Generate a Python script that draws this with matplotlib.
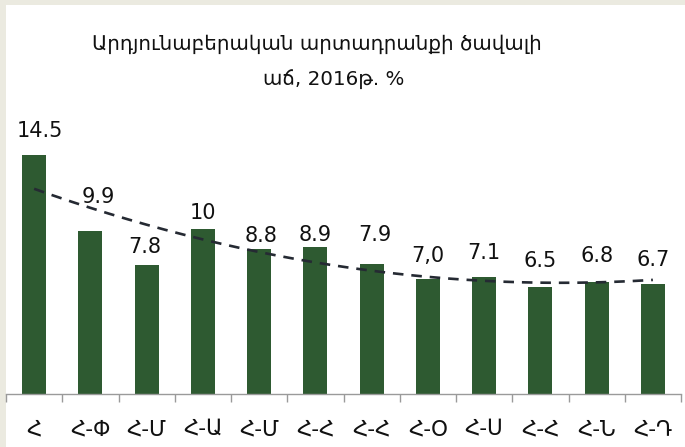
import numpy as np
import matplotlib
matplotlib.use("Agg")
import matplotlib.pyplot as plt
from matplotlib.ticker import FixedLocator

# ---- data ----
categories = ["Հ", "Հ-Փ", "Հ-Մ", "Հ-Ա", "Հ-Մ", "Հ-Հ", "Հ-Հ", "Հ-Օ", "Հ-Ս", "Հ-Հ", "Հ-Ն", "Հ-Դ"]
values = [14.5, 9.9, 7.8, 10.0, 8.8, 8.9, 7.9, 7.0, 7.1, 6.5, 6.8, 6.7]
value_labels = ["14.5", "9.9", "7.8", "10", "8.8", "8.9", "7.9", "7,0", "7.1", "6.5", "6.8", "6.7"]
title_lines = ["Արդյունաբերական արտադրանքի ծավալի", "աճ, 2016թ. %"]

# ---- style / layout ----
label_dy_px = [18, 28, 12, 10, 7, 6, 23, 17, 18, 20, 20, 18]
label_dx_px = [6, 8, -2, 0, 2, 0, 3, 0, 0, 0, 0, 0]
bar_color = "#2e5a31"
W, H = 685, 447
plt.rcParams["font.family"] = ["DejaVu Sans"]

fig = plt.figure(figsize=(W / 100, H / 100), dpi=100)
fig.patch.set_facecolor("#ebeae0")
bg = fig.add_axes([6 / W, 0, 1 - 6 / W, 1 - 5 / H], zorder=-5)
bg.set_facecolor("white")
bg.set_xticks([])
bg.set_yticks([])
for sp in bg.spines.values():
    sp.set_visible(False)

ax = fig.add_axes([6 / W, 53 / H, 675 / W, 263.7 / H], zorder=1)
ax.set_facecolor("none")
x = np.arange(len(values))
ax.bar(x, values, width=0.43, color=bar_color, zorder=2)

# polynomial (order 2) trend line
coef = np.polyfit(x, values, 2)
xs = np.linspace(x[0], x[-1], 200)
ax.plot(xs, np.polyval(coef, xs), color="#252a33", lw=1.9, dashes=(4, 3), zorder=3)

for xi, v, s, dy, dx in zip(x, values, value_labels, label_dy_px, label_dx_px):
    ax.annotate(s, (xi, v), xytext=(dx * 0.72, dy * 0.72), textcoords="offset points",
                ha="center", va="baseline", fontsize=15, color="#111111", zorder=4)

ax.set_xlim(-0.5, len(values) - 0.5)
ax.set_ylim(0, 16)
for sp in ["top", "right", "left"]:
    ax.spines[sp].set_visible(False)
ax.spines["bottom"].set_color("#9a9a9a")
ax.spines["bottom"].set_linewidth(1.0)
ax.set_yticks([])
ax.set_xticks(x)
ax.set_xticklabels(categories, fontsize=15.5, color="#111111")
ax.tick_params(axis="x", which="major", length=0, pad=18)
ax.xaxis.set_minor_locator(FixedLocator(np.arange(-0.5, len(values), 1.0)))
ax.tick_params(axis="x", which="minor", length=6, color="#9a9a9a", width=1.0, direction="out")

fig.text(317 / W, 1 - 44 / H, title_lines[0], ha="center", va="center", fontsize=14.3,
         color="#111111", fontweight="medium")
fig.text(334 / W, 1 - 79 / H, title_lines[1], ha="center", va="center", fontsize=14.3,
         color="#111111", fontweight="medium")

fig.savefig("out.png", dpi=100, facecolor=fig.get_facecolor())
